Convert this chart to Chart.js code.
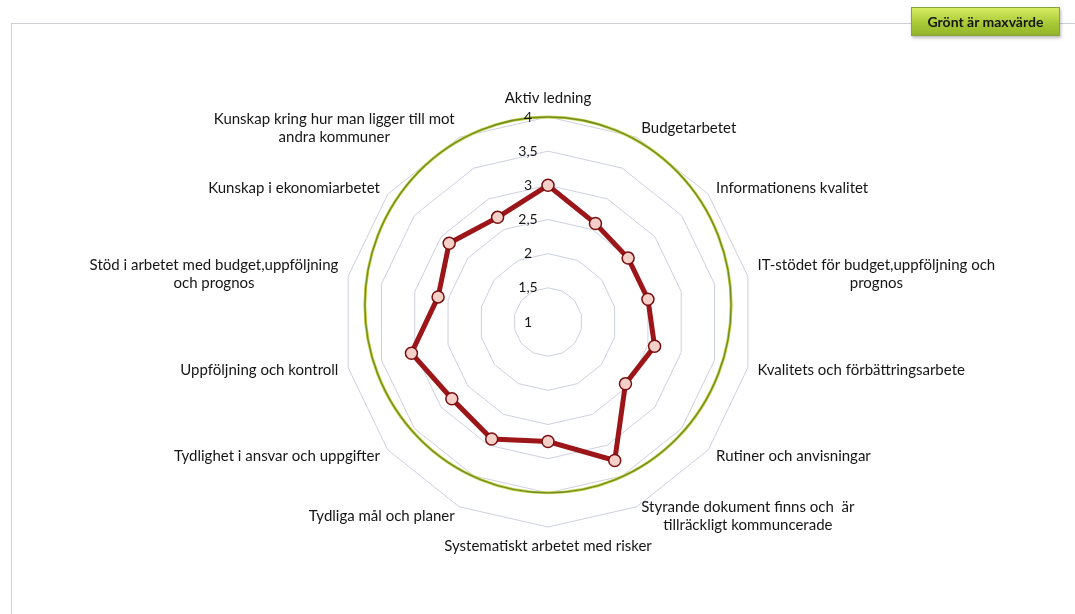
<!DOCTYPE html>
<html>
<head>
<meta charset="utf-8">
<script src="https://cdn.jsdelivr.net/npm/chart.js@4/dist/chart.umd.min.js"></script>
<style>
  html, body { margin: 0; padding: 0; background: #fff; }
  body { width: 1075px; height: 614px; position: relative; overflow: hidden; font-family: Lato, "Open Sans", sans-serif; }
  #frame {
    position: absolute; left: 11px; top: 23px; width: 1070px; height: 620px;
    border: 1px solid #cdcfda;
  }
  #chart { position: absolute; left: 0; top: 0; }
  #maxBadge {
    position: absolute; left: 911px; top: 7px; width: 147px; height: 27px;
    background: linear-gradient(#d6ec62, #a6c734 60%, #93b52a);
    border: 1px solid #89a43a;
    box-shadow: 1px 2px 3px rgba(60, 60, 60, 0.35);
    color: #141414; font: bold 14px Lato, sans-serif;
    line-height: 27px; text-align: center;
  }
</style>
</head>
<body>
<div id="frame"></div>
<canvas id="chart" width="1075" height="614"></canvas>
<div id="maxBadge">Grönt är maxvärde</div>
<script>
// Data
const categories = [
  'Aktiv ledning',
  'Budgetarbetet',
  'Informationens kvalitet',
  ['IT-stödet för budget,uppföljning och', 'prognos'],
  'Kvalitets och förbättringsarbete',
  'Rutiner och anvisningar',
  ['Styrande dokument finns och  är', 'tillräckligt kommuncerade'],
  'Systematiskt arbetet med risker',
  'Tydliga mål och planer',
  'Tydlighet i ansvar och uppgifter',
  'Uppföljning och kontroll',
  ['Stöd i arbetet med budget,uppföljning', 'och prognos'],
  'Kunskap i ekonomiarbetet',
  ['Kunskap kring hur man ligger till mot', 'andra kommuner']
];
const scoreValues = [3.0, 2.6, 2.5, 2.5, 2.6, 2.45, 3.25, 2.75, 2.9, 2.8, 3.05, 2.65, 2.85, 2.7];
const tickValues = [1, 1.5, 2, 2.5, 3, 3.5, 4];
const tickLabels = ['1', '1,5', '2', '2,5', '3', '3,5', '4'];
const maxValue = 4;

const textColor = '#161616';
const labelFont = '15px Lato, "Open Sans", sans-serif';
const tickFont = '14px Lato, "Open Sans", sans-serif';

// Green "max value" ring, drawn by hand in the original (slightly off centre)
const greenRing = {
  id: 'greenRing',
  beforeDatasetsDraw(chart) {
    const scale = chart.scales.r;
    const ctx = chart.ctx;
    const rTop = scale.getDistanceFromCenterForValue(maxValue);
    const rBottom = scale.getDistanceFromCenterForValue(3.5);
    const rx = scale.getDistanceFromCenterForValue(3.68);
    const ry = (rTop + rBottom) / 2;
    const cy = scale.yCenter - (rTop - rBottom) / 2;
    ctx.save();
    ctx.beginPath();
    ctx.ellipse(scale.xCenter, cy, rx, ry, 0, 0, Math.PI * 2);
    ctx.strokeStyle = '#c9d24a';
    ctx.lineWidth = 3;
    ctx.stroke();
    ctx.strokeStyle = '#6f8e22';
    ctx.lineWidth = 1.4;
    ctx.stroke();
    ctx.restore();

    // value labels, placed left of the vertical axis like Excel does
    ctx.save();
    ctx.font = tickFont;
    ctx.fillStyle = textColor;
    ctx.textAlign = 'center';
    ctx.textBaseline = 'middle';
    tickValues.forEach((v, i) => {
      const y = scale.yCenter - scale.getDistanceFromCenterForValue(v);
      ctx.fillText(tickLabels[i], scale.xCenter - 20, y);
    });
    ctx.restore();
  }
};

// Category labels centred vertically on their spoke
const spokeLabels = {
  id: 'spokeLabels',
  afterDraw(chart) {
    const scale = chart.scales.r;
    const ctx = chart.ctx;
    const lineH = 18;
    ctx.save();
    ctx.font = labelFont;
    ctx.fillStyle = textColor;
    ctx.textAlign = 'center';
    ctx.textBaseline = 'middle';
    categories.forEach((label, i) => {
      const lines = Array.isArray(label) ? label : [label];
      const pos = scale.getPointPosition(i, scale.drawingArea + 10);
      let deg = Math.round((pos.angle + Math.PI / 2) * 180 / Math.PI) % 360;
      if (deg < 0) deg += 360;
      const blockW = Math.max(...lines.map(l => ctx.measureText(l).width));
      const blockH = lines.length * lineH;
      let left, top;
      if (deg === 0 || deg === 180) left = pos.x - blockW / 2;
      else if (deg < 180) left = pos.x;
      else left = pos.x - blockW;
      if (deg === 0) top = pos.y - blockH;
      else if (deg === 180) top = pos.y;
      else top = pos.y - blockH / 2;
      lines.forEach((l, k) => {
        ctx.fillText(l, left + blockW / 2, top + lineH * (k + 0.5));
      });
    });
    ctx.restore();
  }
};

new Chart(document.getElementById('chart'), {
  type: 'radar',
  data: {
    labels: categories,
    datasets: [{
      data: scoreValues,
      borderColor: '#9c1518',
      borderWidth: 5,
      fill: false,
      pointRadius: 6,
      pointBackgroundColor: '#f4d0c9',
      pointBorderColor: '#7a0f10',
      pointBorderWidth: 1.5
    }]
  },
  options: {
    responsive: false,
    animation: false,
    layout: { padding: { left: 343, right: 322, top: 117, bottom: 87 } },
    plugins: { legend: { display: false }, tooltip: { enabled: false } },
    scales: {
      r: {
        min: tickValues[0],
        max: tickValues[tickValues.length - 1],
        ticks: { display: false, stepSize: 0.5 },
        grid: { color: '#cdd0df', lineWidth: 1 },
        angleLines: { display: false },
        pointLabels: { display: false }
      }
    }
  },
  plugins: [greenRing, spokeLabels]
});
</script>
</body>
</html>
